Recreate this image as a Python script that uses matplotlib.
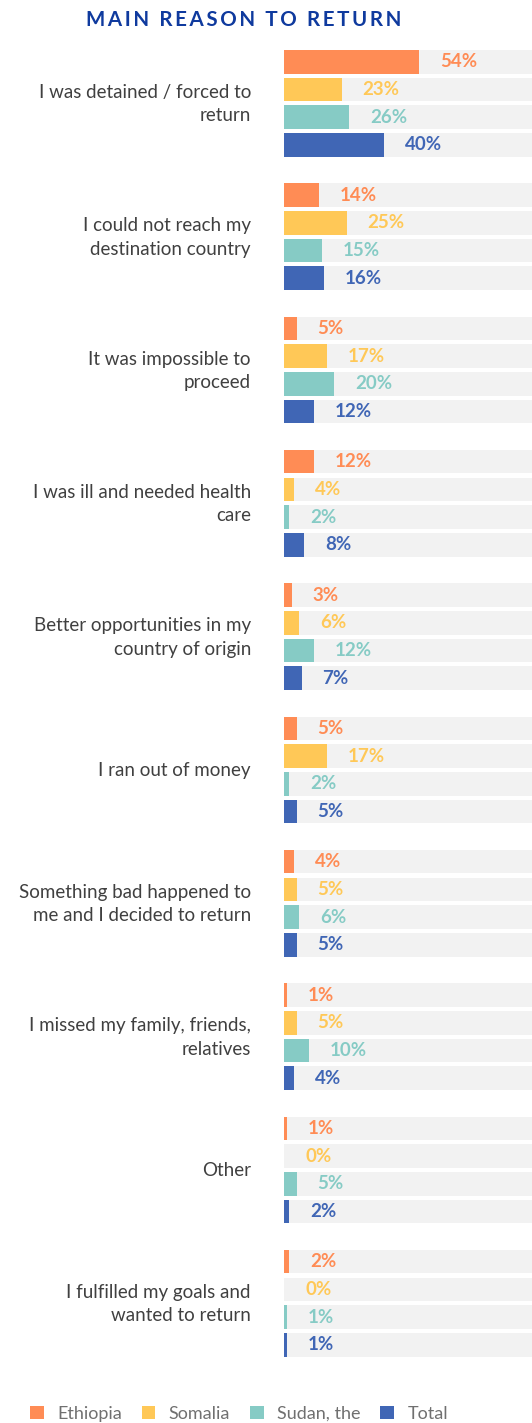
import numpy as np
import matplotlib.pyplot as plt
from matplotlib.patches import Patch

reasons = [
    'I was detained / forced to\nreturn',
    'I could not reach my\ndestination country',
    'It was impossible to\nproceed',
    'I was ill and needed health\ncare',
    'Better opportunities in my\ncountry of origin',
    'I ran out of money',
    'Something bad happened to\nme and I decided to return',
    'I missed my family, friends,\nrelatives',
    'Other',
    'I fulfilled my goals and\nwanted to return',
]
series = ['Ethiopia', 'Somalia', 'Sudan, the', 'Total']
ethiopia = [54, 14, 5, 12, 3, 5, 4, 1, 1, 2]
somalia = [23, 25, 17, 4, 6, 17, 5, 5, 0, 0]
sudan = [26, 15, 20, 2, 12, 2, 6, 10, 5, 1]
total = [40, 16, 12, 8, 7, 5, 5, 4, 2, 1]
colors = ['#FF8C55', '#FFC857', '#86CBC5', '#4066B5']

W, H = 532, 1423
fig = plt.figure(figsize=(W / 100, H / 100), dpi=100)
plt.rcParams['font.family'] = ['Lato', 'DejaVu Sans']

# bar area: starts at x=284 px, runs to the right edge; y in pixel rows
ax = fig.add_axes([284 / W, 0, (W - 284) / W, 1])
ax.set_xlim(0, (W - 284) / 2.5)
ax.set_ylim(H, 0)
ax.axis('off')

group_top, group_step, bar_step, bar_h = 50, 133.33, 27.7, 23.5
for g, reason in enumerate(reasons):
    vals = [ethiopia[g], somalia[g], sudan[g], total[g]]
    for k, (v, c) in enumerate(zip(vals, colors)):
        yc = group_top + g * group_step + k * bar_step + bar_h / 2
        ax.barh(yc, 100, height=bar_h, color='#F2F2F2', linewidth=0)
        ax.barh(yc, v, height=bar_h, color=c, linewidth=0)
        ax.annotate(f'{v}%', (v, yc), xytext=(21, 0), textcoords='offset pixels',
                    ha='left', va='center', fontsize=13.5, fontweight='bold', color=c)
    ymid = group_top + g * group_step + (3 * bar_step + bar_h) / 2 + 1
    ax.text(-33 / 248, ymid, reason, transform=ax.get_yaxis_transform(),
            ha='right', va='center', fontsize=13.5, color='#404040',
            linespacing=1.45)

title = '\u2009'.join('MAIN REASON TO RETURN')
fig.text(244 / W, 1 - 20 / H, title, ha='center', va='center', fontsize=14.8,
         fontweight='bold', color='#0F3A9E')

handles = [Patch(facecolor=c, edgecolor='none') for c in colors]
fig.legend(handles, series, ncol=4, loc='center left', bbox_to_anchor=(30 / W, 1 - 1414 / H),
           frameon=False, fontsize=13, labelcolor='#707070', handlelength=0.75,
           handleheight=0.75, handletextpad=0.75, columnspacing=1.1, borderpad=0,
           borderaxespad=0)

fig.savefig('out.png', dpi=100)
